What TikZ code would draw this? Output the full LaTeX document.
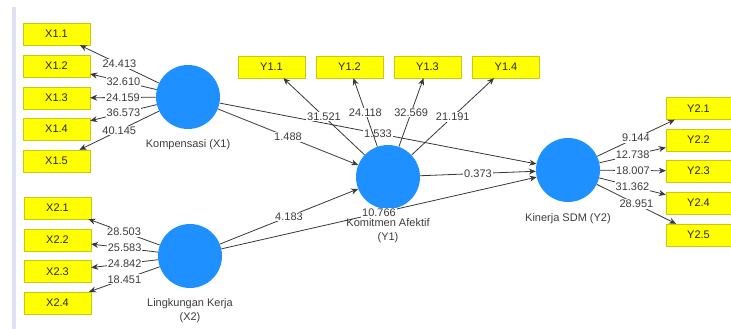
\documentclass[tikz,border=0pt]{standalone}
\usepackage{fontspec}
\setmainfont{Liberation Sans}
\usetikzlibrary{arrows.meta,positioning}

\definecolor{latentblue}{RGB}{30,144,255}
\definecolor{boxfill}{RGB}{255,255,0}
\definecolor{boxborder}{RGB}{200,200,20}
\definecolor{linegray}{RGB}{55,55,55}
\definecolor{labelgray}{RGB}{60,60,60}
\definecolor{sidebar}{RGB}{222,225,242}

\begin{document}
\begin{tikzpicture}[
    x=1pt, y=-1pt,
    font=\fontsize{11}{14}\selectfont,
    indicator/.style = {rectangle, draw=boxborder, fill=boxfill, minimum width=67pt, minimum height=22pt, inner sep=0pt, text=black!85},
    construct/.style = {circle, fill=latentblue, minimum size=64pt, inner sep=0pt},
    caption/.style = {align=center, inner sep=0pt, text=labelgray},
    weight/.style = {fill=white, inner sep=1pt, text=labelgray},
    arrow/.style = {-{Stealth[length=7pt,width=6pt]}, line width=0.8pt, draw=linegray}
]
    \useasboundingbox (0,0) rectangle (731,329);
    \clip (0,0) rectangle (731,329);
    \fill[sidebar] (12,7) rectangle (16,329);

    % latent variables
    \node[construct] (komp) at (188,97) {};
    \node[construct] (ling) at (190,256) {};
    \node[construct] (komit) at (388,177) {};
    \node[construct] (kinerja) at (568,170) {};
    \node[caption, below=10pt of komp] (kompcap) {Kompensasi (X1)};
    \node[caption, below=10pt of ling] (lingcap) {Lingkungan Kerja\\(X2)};
    \node[caption, below=9pt of komit] (komitcap) {Komitmen Afektif\\(Y1)};
    \node[caption, below=11pt of kinerja] (kinerjacap) {Kinerja SDM (Y2)};

    % indicators
    \node[indicator] (x11) at (56.5,34) {X1.1};
    \node[indicator] (x12) at (56.5,66) {X1.2};
    \node[indicator] (x13) at (56.5,98) {X1.3};
    \node[indicator] (x14) at (56.5,129) {X1.4};
    \node[indicator] (x15) at (56.5,161) {X1.5};
    \node[indicator] (x21) at (57.5,208) {X2.1};
    \node[indicator] (x22) at (57.5,240) {X2.2};
    \node[indicator] (x23) at (57.5,271.5) {X2.3};
    \node[indicator] (x24) at (57.5,303) {X2.4};
    \node[indicator] (y11) at (271.5,67) {Y1.1};
    \node[indicator] (y12) at (349.5,67) {Y1.2};
    \node[indicator] (y13) at (427.5,67) {Y1.3};
    \node[indicator] (y14) at (506,67) {Y1.4};
    \node[indicator, minimum width=65pt] (y21) at (698.5,108.5) {Y2.1};
    \node[indicator, minimum width=65pt] (y22) at (698.5,140) {Y2.2};
    \node[indicator, minimum width=65pt] (y23) at (698.5,171) {Y2.3};
    \node[indicator, minimum width=65pt] (y24) at (698.5,203) {Y2.4};
    \node[indicator, minimum width=65pt] (y25) at (698.5,235) {Y2.5};

    % structural paths
    \draw[arrow] (komp) -- node[weight] {1.488} (komit);
    \draw[arrow] (komp) -- node[weight] {1.533} (kinerja);
    \draw[arrow] (ling) -- node[weight] {4.183} (komit);
    \draw[arrow] (ling) -- node[weight] {10.766} (kinerja);
    \draw[arrow] (komit) -- node[weight] {0.373} (kinerja);

    % outer loadings
    \draw[arrow] (komp) -- node[weight] {24.413} (x11);
    \draw[arrow] (komp) -- node[weight] {32.610} (x12);
    \draw[arrow] (komp) -- node[weight] {24.159} (x13);
    \draw[arrow] (komp) -- node[weight] {36.573} (x14);
    \draw[arrow] (komp) -- node[weight] {40.145} (x15);
    \draw[arrow] (ling) -- node[weight] {28.503} (x21);
    \draw[arrow] (ling) -- node[weight] {25.583} (x22);
    \draw[arrow] (ling) -- node[weight] {24.842} (x23);
    \draw[arrow] (ling) -- node[weight] {18.451} (x24);
    \draw[arrow] (komit) -- node[weight] {31.521} (y11);
    \draw[arrow] (komit) -- node[weight] {24.118} (y12);
    \draw[arrow] (komit) -- node[weight] {32.569} (y13);
    \draw[arrow] (komit) -- node[weight] {21.191} (y14);
    \draw[arrow] (kinerja) -- node[weight] {9.144} (y21);
    \draw[arrow] (kinerja) -- node[weight] {12.738} (y22);
    \draw[arrow] (kinerja) -- node[weight] {18.007} (y23);
    \draw[arrow] (kinerja) -- node[weight] {31.362} (y24);
    \draw[arrow] (kinerja) -- node[weight] {28.951} (y25);
\end{tikzpicture}
\end{document}
